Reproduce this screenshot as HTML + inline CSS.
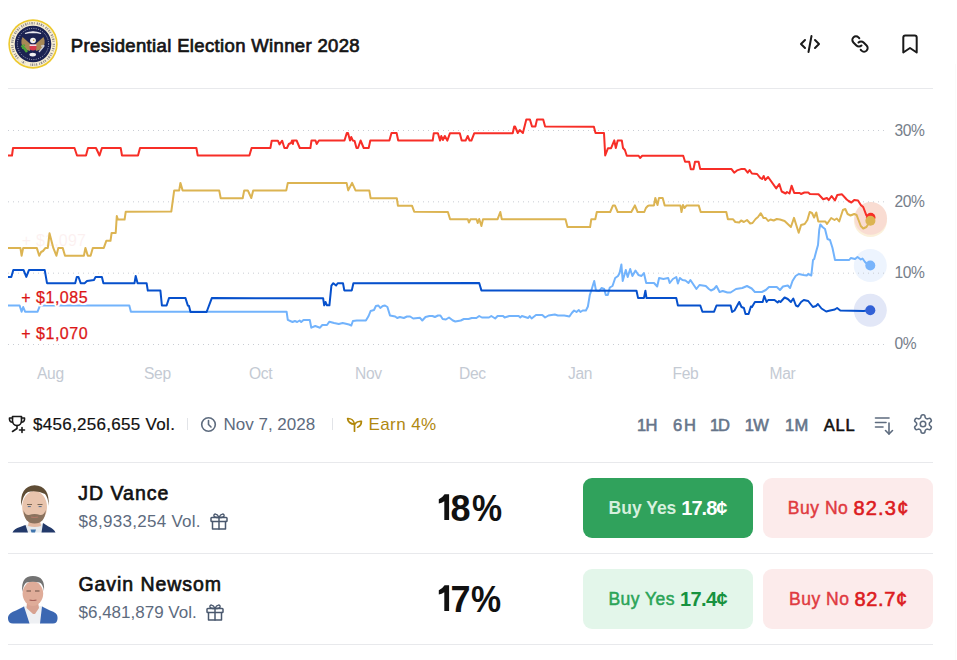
<!DOCTYPE html>
<html><head><meta charset="utf-8">
<style>
html,body{margin:0;padding:0;background:#fff;}
body{width:957px;height:660px;position:relative;overflow:hidden;font-family:"Liberation Sans",sans-serif;}
.a{position:absolute;white-space:nowrap;line-height:1;}
.hl{position:absolute;left:8px;width:925px;height:1px;background:#e8e9ec;}
.yl{position:absolute;left:894.4px;font-size:15.6px;color:#767e8a;line-height:1;letter-spacing:-0.35px;}
.xl{position:absolute;top:365.5px;font-size:15.6px;color:#c4cad3;line-height:1;letter-spacing:-0.3px;}
.tf{position:absolute;top:417px;font-size:16.5px;color:#66758a;-webkit-text-stroke:0.6px #66758a;line-height:1;}
.btn{position:absolute;width:170px;height:60px;border-radius:9px;text-align:center;line-height:60px;white-space:nowrap;}
</style></head><body>

<!-- seal -->
<svg class="a" style="left:8px;top:19px" width="50" height="50" viewBox="-25 -25 50 50">
  <circle r="24.7" fill="#edc92e"/>
  <circle r="23.1" fill="#f8efd5"/>
  <circle r="20.8" fill="none" stroke="#3b3a55" stroke-width="2.4" stroke-dasharray="0.7 0.9 1.1 0.8 0.6 1.6 0.9 0.7" opacity="0.55" transform="rotate(-100)" pathLength="100"/>
  <circle r="20.8" fill="none" stroke="#f8efd5" stroke-width="3" stroke-dasharray="0 55 4 3 3 35" pathLength="100" transform="rotate(-100)"/>
  <circle r="18.3" fill="#1b2252"/>
  <circle r="15.6" fill="none" stroke="#d6d9e6" stroke-width="0.9" stroke-dasharray="0.8 1.5"/>
  <path d="M-8 -10.5 Q0 -14 8 -10.5 Q4 -11.5 0 -11.6 Q-4 -11.5 -8 -10.5 Z" fill="#e9e9f0" stroke="#e9e9f0" stroke-width="1.2"/>
  <path d="M-10.5 -7 Q-13.5 -1 -9 5 L-3 7 L-1.5 1 Z" fill="#a88956"/>
  <path d="M10.5 -7 Q13.5 -1 9 5 L3 7 L1.5 1 Z" fill="#a88956"/>
  <ellipse cx="0" cy="-3.5" rx="2.9" ry="2.7" fill="#f2f2f2"/>
  <circle cx="0.7" cy="-3.7" r="0.8" fill="#c79a2e"/>
  <path d="M-3.4 0.5 h6.8 v4.4 q-3.4 3.3 -6.8 0 z" fill="#d8394c"/>
  <path d="M-3.4 0.5 h6.8 v1.4 h-6.8 z" fill="#eef0f6"/>
  <path d="M-11.5 1.5 q3 2.5 5.5 6.5" stroke="#4aa43a" stroke-width="2.4" fill="none"/>
  <path d="M-9.5 0.5 l1.5 1.2 M-11 4.3 l1.8 -0.2" stroke="#4aa43a" stroke-width="1.2"/>
  <path d="M6 8 l5 -6 M9.5 1.5 l2 0.5 M8 2.2 l2 -0.6" stroke="#cfcfd4" stroke-width="1.3" fill="none"/>
  <ellipse cx="-0.3" cy="10.6" rx="3.3" ry="1.9" fill="#f0f0f0"/>
</svg>

<div class="a" style="left:70.8px;top:36.9px;font-size:18.5px;color:#151515;letter-spacing:0.35px;-webkit-text-stroke:0.7px #151515">Presidential Election Winner 2028</div>

<!-- header icons -->
<svg class="a" style="left:798px;top:32px" width="24" height="24" viewBox="0 0 24 24" fill="none" stroke="#1a1a1a" stroke-width="2" stroke-linecap="round" stroke-linejoin="round">
  <path d="M7 8 L3 12 L7 16"/><path d="M17 8 L21 12 L17 16"/><path d="M13.5 4 L10.5 20"/>
</svg>
<svg class="a" style="left:848px;top:32px" width="24" height="24" viewBox="0 0 24 24" fill="none" stroke="#1a1a1a" stroke-width="2" stroke-linecap="round" stroke-linejoin="round">
  <g transform="translate(24 0) scale(-1 1)"><path d="M10.5 13.5 a3.6 3.6 0 0 0 5.1 0 l3 -3 a3.6 3.6 0 0 0 -5.1 -5.1 l-0.8 0.8"/>
  <path d="M13.5 10.5 a3.6 3.6 0 0 0 -5.1 0 l-3 3 a3.6 3.6 0 0 0 5.1 5.1 l0.8 -0.8"/>
</svg>
<svg class="a" style="left:898px;top:32px" width="24" height="24" viewBox="0 0 24 24" fill="none" stroke="#1a1a1a" stroke-width="2" stroke-linejoin="round">
  <path d="M5.3 5.5 Q5.3 3.5 7.3 3.5 H16.7 Q18.7 3.5 18.7 5.5 V20.5 L12 16 L5.3 20.5 Z"/>
</svg>

<div class="hl" style="top:88px"></div>

<!-- chart -->
<svg class="a" style="left:0;top:0" width="957" height="400" viewBox="0 0 957 400">
  <text x="21.8" y="246.3" font-family="Liberation Sans" font-size="16" fill="#d91e1e" opacity="0.06" style="letter-spacing:0.2px">+ $1,097</text>
  <circle cx="870.4" cy="220.6" r="16.5" fill="#fbf0da"/>
  <circle cx="870.7" cy="218.4" r="16.3" fill="#f9dcd2"/>
  <circle cx="870.3" cy="265.5" r="16.5" fill="#edf4fe"/>
  <circle cx="870.3" cy="310.3" r="16.5" fill="#e2e7f7"/>
  <g stroke="#c9cdd4" stroke-width="1" stroke-dasharray="1 4" stroke-linecap="butt">
    <line x1="8" y1="130.5" x2="885" y2="130.5"/>
    <line x1="8" y1="201.83" x2="885" y2="201.83"/>
    <line x1="8" y1="273.17" x2="885" y2="273.17"/>
    <line x1="8" y1="344.5" x2="885" y2="344.5"/>
  </g>
  <g fill="none" stroke-width="2" stroke-linejoin="round" stroke-linecap="butt">
    <polyline stroke="#f72e27" points="8,155.5 12,155.5 13,148 74.5,148 77,155.5 86,155.5 88,148 96,148 99.5,155.5 101.9,148 120.7,148 122,155.5 138,155.5 140,148 196.4,148 197.7,155.5 249.4,155.5 251.6,148 270.4,148 271.7,140.7 277.9,140.7 279.5,144.4 282.2,140.7 284.4,148 287,148 288.8,144 291,143 292,140.5 292.9,144 293.5,140.5 296.6,140.5 299.8,148 310.4,148 311.5,140.5 315.5,140.5 316.7,144 318.9,140.5 344.5,140.5 346.8,133 348,133 350,140.5 351.2,137 352.8,140.5 354.6,141 356.5,148 358,148 360.6,140.5 363.7,148 368.7,148 370.3,140.5 389.4,140.5 391.5,133 396.6,133 398.2,140.5 432.7,140.6 433.8,133.2 437.9,133.2 440.1,140.6 441.3,136 442.9,140 444.8,136 447.3,140.6 450,133.2 459.8,133.2 461.7,140.6 465.6,140.6 467.7,136 469.6,140.6 471.4,140.6 474.3,133.2 512.7,133.2 514.2,126.5 515,126.5 517.8,133 519.7,130 522.9,133 526.3,119.4 529.9,119.4 532,126.5 535.4,126.5 537,119.4 543.2,119.4 545.1,126.5 593.9,126.8 595.5,133 604,133 605.2,155.4 608,148.2 611.1,148.2 614.3,140.4 615.8,148 617.7,140.4 621.8,140.4 623,148 624.9,150 626.8,155.8 638.6,155.8 640.1,158 642.2,155.8 683.2,155.8 685.1,161.7 689.2,161.7 690.8,169.3 693.5,169.3 695,161.7 698.6,161.7 700.2,169.1 731.5,169.1 734.2,172.7 737,170.4 740.9,169.1 744.9,169.1 747.7,172.7 749.6,170 751.9,173.5 757.1,174 760.2,177.9 762.1,179 763.7,176 765.2,180 768.1,177 776.2,188.4 779.3,184 781.7,191.5 785.6,193.5 787,192 789.5,193.5 791.6,185.7 794.2,192.9 799.7,193 801,194 804.4,192.5 808.3,192.5 809.9,194 818.5,194.3 823.2,199.3 826.9,198 828.8,200 831.6,196 834.9,200.5 837.3,195 842,194.3 846.7,199.5 848.6,201 851.4,202.5 854.2,200 858,200.5 860.8,205 863.2,207 866.4,215.3 870.7,217.6"/>
    <polyline stroke="#dcb452" points="8,247.9 20.4,247.9 21.6,255.7 23.2,247.9 36.8,247.9 39.2,255.7 41.1,252 43,251 45.5,247.9 47.8,247.9 49.5,233.3 53.3,247.9 56.4,255.7 58.3,247.9 62.7,247.9 65,255.7 83.9,255.7 85.4,247.9 87.8,255.7 90.6,255.7 92.8,247.9 103.8,247.9 106.3,240.8 110.5,240.8 111.6,233 115.7,233 116.8,216 117.9,219.5 124.6,219.5 125.7,211.8 171.3,211.5 174.2,190.4 179.2,190.4 180.4,182.9 182.6,190.4 219.2,190.4 220.7,198.2 242.7,198.2 244.2,190.4 247.8,190.4 251.3,198 253.2,190.4 286.3,190.4 287.8,182.9 346.6,182.9 348.2,190.4 352.1,182.9 355.5,190.4 369.3,190.4 370.6,198.2 396.8,198.2 397.9,205.7 412,205.7 414.2,211.7 447.9,212 450.1,219.2 467.8,219.2 468.9,222.5 470.5,219.2 476.5,219.2 477.7,223 479.2,219 481.4,226 483,219.2 497.6,219.2 500.3,212 501.8,219.2 565.5,219.2 567.5,227 590.1,227 591.3,219.2 595.3,219.2 596.8,212 610.2,212 613,205.4 614.9,205.4 617.7,212 631.3,212 634.9,205.4 637.6,212 644.3,212 645.9,208 647.8,206 649.3,205.4 654,205.4 655.3,197.9 657.5,205 659,197.9 662.7,197.9 664.7,205.4 680.4,205.4 681.5,212 683,205 684.6,208 686.6,205.4 698.7,205.4 700.7,212 726.3,212 727.9,219.2 732.9,219.2 735.3,222 739.2,222.5 741.1,220.5 743.9,222 747,220 750.2,223.5 752.5,223 755.6,219 758,217 760.8,213.2 763.5,218 765.8,218 768.2,221 770.5,219.5 773.7,220.5 776.8,219 780,219.5 784.6,221 790.9,227 794,217.9 798.7,232.8 801.1,225 804.7,224 807.4,220 809.7,212 812,213 814.1,217.5 816.3,212.5 818.3,221.5 825.4,221.5 827,224 831.2,218 834.5,220 836.8,218.5 839.2,221.5 842.9,210 845.3,209 847.6,214 850.5,215.5 854.2,214 856.6,215 860.8,226 863.2,228.5 866.4,227 868.3,224 870.4,220.6"/>
    <polyline stroke="#72b3fc" points="8,305.5 19.6,305.5 21.6,311.7 23.2,307 25.1,311.7 37.6,311.7 40,305.5 129.3,305.5 130.9,311.7 286.6,311.7 287.8,319.8 292.5,322 294.9,321 297.2,322 299.6,320.5 301.2,322 303.5,320 309.8,320 311.3,327.7 315.3,326 320,327.7 322.3,325 327,325 329.4,321.7 334.1,323 338.8,324 342.7,323 349,324.5 351.3,325.5 352.9,321 356.8,320.5 365.9,320.5 368.6,316 370.6,311 374,310 375.9,306 378.4,305.5 380.3,308 382.7,306 385,305.5 387.4,307 390,315.5 395.2,316.5 397.2,318 399.9,317 403.8,318 407,316.5 410.1,316.5 413.2,318.5 417.9,318 420,317.8 422.3,320.5 425.5,317 429.4,316 432.5,316 434.9,317 438,315.5 440.4,315.5 442.7,319 445.9,319.5 449,317.5 452.9,320.5 455.3,321.5 460.8,320.5 463.9,319 468.6,319 471.7,318 476.4,318 479.2,316 481.9,317.5 489,317.5 491.3,316 495.2,318.5 497.6,316 503.1,316 504.6,317.5 509.3,316 518.7,316 520.3,317.5 521.9,316 528.2,318 529.7,316 531.6,318.5 536,315 542.3,315 545.1,317.5 548.5,315.5 551.6,315 554.8,314.5 557.9,315.5 564.2,315.5 567,316 569.4,316.5 571.8,313 574.1,310.5 576.5,312 578.8,310 580.4,312 582.7,310.5 585.9,310.5 587.9,306.5 589.8,295 591.3,290.5 594.2,281 596,290.5 599.2,291 601.5,288 604.2,289 605.8,295 607.8,295 609.8,287.5 612.5,286 615.2,278 618,276 619.6,273 621.4,264.5 622.7,281 625.8,270 627.7,277 630.2,269 632.4,276 635.5,270.5 638.4,275 641.5,276 643.9,273 646.2,283 654,283 657.2,286.5 659.1,278 663.4,279 668.2,278 669.7,283 672.9,279 676.3,277 677.9,283.5 679.9,278 682.4,280 685.4,280.5 688.5,283 690.4,280 696.4,289 699.5,285 705.8,286 708.9,289 711,290.5 714,289 716.5,286 719.6,292 722.7,291 727.4,292.5 730.6,292.5 736,289 742.3,288 747,286 751.7,288.5 754.9,292 761.9,292 765.8,290 769,287 776.8,287 780,290 783,286.5 787.8,285.5 790.1,288 792.5,281 795.6,276 798.7,274 803.4,275 806.7,275.5 808.2,274 811.3,275.5 813,260 814.2,259 816.3,251 818,245 819.2,230 820.3,224.5 822.5,227 825,229 827.5,239 830,240 832.5,248 835,260 849.2,260 850.8,258 855,259 857.5,257 860.8,259.5 862.5,258.5 865,262 868.3,265 870.3,265.5"/>
    <polyline stroke="#0650cc" points="8,276.9 11.3,276.9 13.3,269.9 23.5,269.9 26.3,276.9 29,269.9 44.7,269.9 47,283.2 75.2,283.2 76.8,276.9 78.5,277 80.7,283.2 84.6,283.2 87,281 94,280 95.6,276.9 101.9,276.9 103.4,283.2 134.5,283.2 135.7,276 137.6,283.2 146.6,283.2 147.8,290.6 160.4,290.6 161.9,305.5 166.6,305.5 169,298.1 185.5,298.1 187.8,305.5 189,306 190.5,312 206.6,312 211.8,298.1 323.1,298.2 324.2,305.3 325.5,302 327,305.3 329.4,305.3 331.4,285.7 333.3,283.2 336.1,285.5 337.7,283.2 343,283.2 344.3,290.4 351.8,290.4 353.4,283.2 479.2,283 481.4,290.4 636.5,290.7 638.1,298.1 643.9,298.1 645.4,290.7 646.5,298.1 676.3,298.1 677.9,305.5 700.3,305.5 702.4,311.7 714.1,311.7 716.5,305.5 730.6,305.5 732.1,312 734.5,310.5 739.2,302 741.5,307 743.9,308 745.5,314 748.6,314 750.9,306.5 752,307 754.9,302 762.7,302 764.3,296 766.6,302 768.2,300 774.5,300 777.6,302.5 779,301 780.5,302 784.6,297.5 787.8,299 790.9,302 793.3,298.5 795.9,305.5 798,306.5 801.1,302 803.8,300 808.2,301 812.9,307 816,306 817.9,304 821.5,308.5 826.2,311.5 830.1,310.5 834.8,309.5 837.1,308 840.3,310.5 863.3,311 870.3,310.3"/>
  </g>
  <circle cx="870.7" cy="217.6" r="4.8" fill="#f72e27"/>
  <circle cx="870.4" cy="220.8" r="5" fill="#dcb452"/>
  <circle cx="870.3" cy="265.5" r="5" fill="#78b4fb"/>
  <circle cx="870.3" cy="310.3" r="5" fill="#3361d6"/>
  <g font-family="Liberation Sans" font-size="16" fill="#fff" stroke="#fff" stroke-width="4" stroke-linejoin="round" style="letter-spacing:0.5px">
    <text x="21.3" y="303">+ $1,085</text>
    <text x="21.3" y="338.8">+ $1,070</text>
  </g>
  <g font-family="Liberation Sans" font-size="16" fill="#dc1616" stroke="#dc1616" stroke-width="0.25" style="letter-spacing:0.5px">
    <text x="21.3" y="303">+ $1,085</text>
    <text x="21.3" y="338.8">+ $1,070</text>
  </g>
</svg>

<div class="yl" style="top:122.9px">30%</div>
<div class="yl" style="top:193.8px">20%</div>
<div class="yl" style="top:265.1px">10%</div>
<div class="yl" style="top:335.6px">0%</div>

<div class="xl" style="left:37px">Aug</div>
<div class="xl" style="left:144px">Sep</div>
<div class="xl" style="left:249px">Oct</div>
<div class="xl" style="left:355px">Nov</div>
<div class="xl" style="left:459px">Dec</div>
<div class="xl" style="left:568px">Jan</div>
<div class="xl" style="left:672.5px">Feb</div>
<div class="xl" style="left:769.5px">Mar</div>

<!-- stats row -->
<svg class="a" style="left:8px;top:415px" width="19" height="19" viewBox="0 0 19 19" fill="none" stroke="#1a1a1a" stroke-width="1.6" stroke-linecap="round" stroke-linejoin="round">
  <path d="M4.5 1.5 H13.5 V6 A4.5 4.5 0 0 1 4.5 6 Z"/>
  <path d="M4.5 3 H1.5 V4.5 A3 3 0 0 0 4.6 7.2"/><path d="M13.5 3 H16.5 V4.5 A3 3 0 0 1 13.4 7.2"/>
  <path d="M9 10.5 V13.5 L4.5 16.5"/><path d="M14 12.5 V17.5 M11.5 15 H16.5"/>
</svg>
<div class="a" style="left:33px;top:416px;font-size:17px;color:#111;letter-spacing:0.3px;-webkit-text-stroke:0.2px #111">$456,256,655 Vol.</div>
<div class="a" style="left:187px;top:418px;width:1px;height:12px;background:#e2e4e8"></div>
<svg class="a" style="left:200px;top:416px" width="17" height="17" viewBox="0 0 17 17" fill="none" stroke="#5d6b7e" stroke-width="1.6" stroke-linecap="round">
  <circle cx="8.5" cy="8.5" r="6.8"/><path d="M8.5 4.5 V8.5 L11 11"/>
</svg>
<div class="a" style="left:223.5px;top:416px;font-size:17px;color:#5d6b7e">Nov 7, 2028</div>
<div class="a" style="left:332px;top:418px;width:1px;height:12px;background:#e2e4e8"></div>
<svg class="a" style="left:346px;top:416px" width="17" height="17" viewBox="0 0 17 17" fill="none" stroke="#b18708" stroke-width="1.7" stroke-linecap="round" stroke-linejoin="round">
  <path d="M8.5 15.2 V8.2"/><path d="M8.5 8.2 C8 4.6 5 2.3 1.6 2.5 C1.6 5.6 4.6 8.2 8.5 8.2 Z"/><path d="M9.2 7.6 C10.6 5.8 13 5.1 15.4 5.3 C15.4 8.1 14 10.4 11.6 11.2"/>
</svg>
<div class="a" style="left:368.5px;top:416px;font-size:17px;color:#b08810;letter-spacing:0.4px">Earn 4%</div>

<div class="tf" style="left:637px;letter-spacing:-0.6px">1H</div>
<div class="tf" style="left:673px;letter-spacing:1.8px">6H</div>
<div class="tf" style="left:710px;letter-spacing:-1.1px">1D</div>
<div class="tf" style="left:744.7px;letter-spacing:-0.6px">1W</div>
<div class="tf" style="left:785px;letter-spacing:0.2px">1M</div>
<div class="tf" style="left:823.8px;color:#111;-webkit-text-stroke:0.6px #111;letter-spacing:0.8px">ALL</div>
<svg class="a" style="left:874px;top:415px" width="21" height="21" viewBox="0 0 21 21" fill="none" stroke="#5d6b7e" stroke-width="1.6" stroke-linecap="round" stroke-linejoin="round">
  <path d="M1.5 3 H15"/><path d="M1.5 7.5 H12"/><path d="M1.5 12 H9"/><path d="M15 8 V19"/><path d="M11.5 15.5 L15 19 L18.5 15.5"/>
</svg>
<svg class="a" style="left:911.6px;top:413.3px" width="22" height="22" viewBox="0 0 24 24" fill="none" stroke="#5d6b7e" stroke-width="1.7" stroke-linecap="round" stroke-linejoin="round">
  <path d="M12.22 2h-.44a2 2 0 0 0-2 2v.18a2 2 0 0 1-1 1.73l-.43.25a2 2 0 0 1-2 0l-.15-.08a2 2 0 0 0-2.73.73l-.22.38a2 2 0 0 0 .73 2.73l.15.1a2 2 0 0 1 1 1.72v.51a2 2 0 0 1-1 1.74l-.15.09a2 2 0 0 0-.73 2.73l.22.38a2 2 0 0 0 2.73.73l.15-.08a2 2 0 0 1 2 0l.43.25a2 2 0 0 1 1 1.73V20a2 2 0 0 0 2 2h.44a2 2 0 0 0 2-2v-.18a2 2 0 0 1 1-1.73l.43-.25a2 2 0 0 1 2 0l.15.08a2 2 0 0 0 2.73-.73l.22-.39a2 2 0 0 0-.73-2.73l-.15-.08a2 2 0 0 1-1-1.74v-.5a2 2 0 0 1 1-1.74l.15-.09a2 2 0 0 0 .73-2.73l-.22-.38a2 2 0 0 0-2.73-.73l-.15.08a2 2 0 0 1-2 0l-.43-.25a2 2 0 0 1-1-1.73V4a2 2 0 0 0-2-2z"/>
  <circle cx="12" cy="12" r="3"/>
</svg>

<div class="hl" style="top:462px"></div>

<!-- row 1 -->
<svg class="a" style="left:10px;top:482px" width="48" height="52" viewBox="0 0 48 52">
  <path d="M13 43 L35 41.5 L34 50.5 L15 50.5 Z" fill="#e6ebef"/>
  <path d="M2.5 50.5 Q4 46.5 10 45 L15.5 43 L18 50.5 Z" fill="#22396a"/>
  <path d="M33 41 L38.5 44.5 Q44 47 45.5 50.5 L31.5 50.5 Z" fill="#22396a"/>
  <path d="M20.5 47.5 L26 47.5 L25 50.5 L21.5 50.5 Z" fill="#3f74ad"/>
  <path d="M19 38 L30 38 L31 44 Q25 46 18 44 Z" fill="#e2b9a2"/>
  <ellipse cx="24.6" cy="25" rx="12.4" ry="16" fill="#e8c4ad"/>
  <path d="M11.2 24 Q9.5 4.5 24.6 3.3 Q40 4 38.6 24 Q38 15 35 12 Q27 8 18 10 Q13 12.5 11.2 24 Z" fill="#5f4d35"/>
  <path d="M13.5 28 Q14 41.5 24.6 41.5 Q35 41.5 35.8 28 Q34 33.5 30 33 Q24.6 31 19 33 Q15 33.5 13.5 28 Z" fill="#8a725e"/>
  <path d="M17 22.5 h5 M27.5 22.5 h5" stroke="#7c6650" stroke-width="1"/>
  <path d="M17.8 24.6 h3 M28.6 24.6 h3" stroke="#4f6a8c" stroke-width="1"/>
  <path d="M21 35 q3.6 1 7.2 0" stroke="#b07868" stroke-width="1.1" fill="none"/>
</svg>
<div class="a" style="left:78.3px;top:483.5px;font-size:19.5px;color:#111;letter-spacing:1px;-webkit-text-stroke:0.65px #111">JD Vance</div>
<div class="a" style="left:78.5px;top:513px;font-size:17px;color:#5d6b7e;letter-spacing:0.28px">$8,933,254 Vol.</div>
<svg class="a" style="left:209px;top:511.4px" width="20" height="20" viewBox="0 0 20 20" fill="none" stroke="#4a586e" stroke-width="1.5" stroke-linejoin="round" stroke-linecap="round">
  <rect x="2" y="6.5" width="16" height="4" rx="0.8"/><path d="M3.5 10.5 V18 H16.5 V10.5"/><path d="M10 6.5 V18"/>
  <path d="M10 6.5 C8 2 4.5 2.5 5 5 C5.3 6.2 7.5 6.5 10 6.5 C12.5 6.5 14.7 6.2 15 5 C15.5 2.5 12 2 10 6.5"/>
</svg>
<svg class="a" style="left:0;top:0" width="460" height="660"><path d="M449.1 494.3 V520.1 H444.3 V501.2 Q441.8 502.8 438.8 503.6 V499.2 Q442.2 498 444.6 494.3 Z" fill="#111"/><path d="M449.1 585.3 V611.1 H444.3 V592.2 Q441.8 593.8 438.8 594.6 V590.2 Q442.2 589 444.6 585.3 Z" fill="#111"/></svg>
<div class="a" style="left:450.5px;top:491px;font-size:36px;font-weight:bold;color:#111">8</div><div class="a" style="left:472px;top:491px;font-size:36px;font-weight:bold;color:#111;transform:scaleX(0.94);transform-origin:0 0">%</div>
<div class="btn" style="left:583px;top:478px;background:#30a25c">
  <span style="font-size:17.5px;font-weight:bold;color:#d6f0de;vertical-align:1px">Buy Yes</span><span style="font-size:20px;font-weight:bold;color:#fff;letter-spacing:-1px;margin-left:5px;margin-right:1px">17.8¢</span>
</div>
<div class="btn" style="left:763px;top:478px;background:#fcebeb">
  <span style="font-size:17.5px;color:#e03a3f;letter-spacing:0.55px;-webkit-text-stroke:0.45px #e03a3f;vertical-align:1px">Buy No</span><span style="font-size:20px;color:#dc1c22;letter-spacing:1.2px;-webkit-text-stroke:0.6px #dc1c22;margin-left:5px;margin-right:-1.2px">82.3¢</span>
</div>

<div class="hl" style="top:553px"></div>

<!-- row 2 -->
<svg class="a" style="left:7px;top:574px" width="54" height="52" viewBox="0 0 54 52">
  <path d="M16 32 L36 32 L34 49.5 L21 49.5 Z" fill="#eef0f3"/>
  <path d="M1 43 Q2 38.5 9 36.5 L17 32.5 L22.5 49.5 L6 49.5 Q1.5 49.5 1 45 Z" fill="#3b67b2"/>
  <path d="M35 32.5 L43 36.5 Q50.5 38.5 50.5 43 L50.5 45 Q50 49.5 46 49.5 L33 49.5 Z" fill="#3b67b2"/>
  <path d="M20 28 L31 28 L32 34 L28 40 L26 40 L19.5 34 Z" fill="#d8a392"/>
  <ellipse cx="25.9" cy="19.6" rx="10.3" ry="12.3" fill="#dfac99"/>
  <path d="M15.3 18 Q13.5 2 25.9 2 Q38.5 2 37 17 Q36 10 32.5 8.5 Q25.9 7 19.5 8.5 Q16.5 10 15.3 18 Z" fill="#737373"/>
  <path d="M19.5 17 h4.5 M28 17 h4.5" stroke="#6a4e44" stroke-width="1.1"/>
  <path d="M22.5 26 q3.5 1 7 0" stroke="#a8635b" stroke-width="1.1" fill="none"/>
</svg>
<div class="a" style="left:78.5px;top:575px;font-size:19.5px;color:#111;letter-spacing:0.93px;-webkit-text-stroke:0.65px #111">Gavin Newsom</div>
<div class="a" style="left:78.5px;top:604px;font-size:17px;color:#5d6b7e">$6,481,879 Vol.</div>
<svg class="a" style="left:205px;top:602.4px" width="20" height="20" viewBox="0 0 20 20" fill="none" stroke="#4a586e" stroke-width="1.5" stroke-linejoin="round" stroke-linecap="round">
  <rect x="2" y="6.5" width="16" height="4" rx="0.8"/><path d="M3.5 10.5 V18 H16.5 V10.5"/><path d="M10 6.5 V18"/>
  <path d="M10 6.5 C8 2 4.5 2.5 5 5 C5.3 6.2 7.5 6.5 10 6.5 C12.5 6.5 14.7 6.2 15 5 C15.5 2.5 12 2 10 6.5"/>
</svg>
<div class="a" style="left:450.5px;top:582px;font-size:36px;font-weight:bold;color:#111">7</div><div class="a" style="left:471px;top:582px;font-size:36px;font-weight:bold;color:#111;transform:scaleX(0.94);transform-origin:0 0">%</div>
<div class="btn" style="left:583px;top:569px;background:#e3f6ea">
  <span style="font-size:17.5px;color:#2aa457;letter-spacing:0.45px;-webkit-text-stroke:0.5px #2aa457;vertical-align:1px">Buy Yes</span><span style="font-size:20px;font-weight:bold;color:#17923f;letter-spacing:-0.6px;margin-left:5px;margin-right:0.6px">17.4¢</span>
</div>
<div class="btn" style="left:763px;top:569px;background:#fcebeb">
  <span style="font-size:17.5px;color:#e03a3f;letter-spacing:0.55px;-webkit-text-stroke:0.45px #e03a3f;vertical-align:1px">Buy No</span><span style="font-size:20px;color:#dc1c22;letter-spacing:0.6px;-webkit-text-stroke:0.6px #dc1c22;margin-left:5px;margin-right:-0.6px">82.7¢</span>
</div>

<div class="hl" style="top:644px"></div>
<div class="a" style="left:955px;top:64px;width:1px;height:596px;background:#fbfbfb"></div>
</body></html>
